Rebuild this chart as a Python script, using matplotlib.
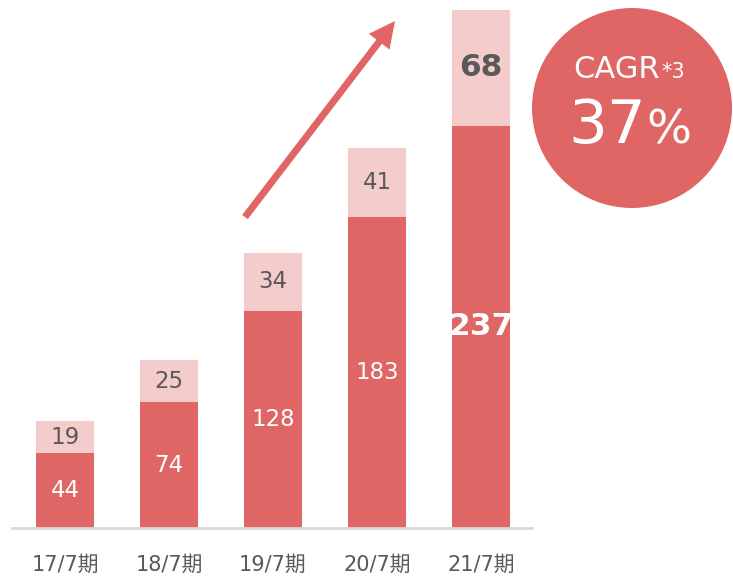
import matplotlib.pyplot as plt
from matplotlib.patches import Circle, FancyArrow

plt.rcParams['font.family'] = ['DejaVu Sans', 'Noto Sans CJK JP']

# データ
periods = ["17/7期", "18/7期", "19/7期", "20/7期", "21/7期"]
base_values = [44, 74, 128, 183, 237]
top_values = [19, 25, 34, 41, 68]
cagr_text = "37"

dark = "#E06666"
light = "#F4CCCC"
grey = "#595959"

fig = plt.figure(figsize=(7.33, 5.79), dpi=100)
W, H = 733, 579

ax = fig.add_axes([12 / W, 51 / H, 520 / W, 528 / H])
x = list(range(len(periods)))

ax.bar(x, base_values, width=0.56, color=dark)
ax.bar(x, top_values, width=0.56, bottom=base_values, color=light)

ax.set_xlim(-0.51, 4.49)
ax.set_ylim(0, 310.9)

# ラベル
for i in x:
    b = base_values[i]
    t = top_values[i]
    last = i == len(x) - 1
    ax.text(i, b / 2, str(b), ha="center", va="center",
            color="white", fontsize=22.5 if last else 16.5,
            fontweight="bold" if last else "normal")
    ax.text(i, b + t / 2, str(t), ha="center", va="center",
            color=grey, fontsize=22.5 if last else 16.5,
            fontweight="bold" if last else "normal")

ax.set_xticks(x)
ax.set_xticklabels(periods, fontsize=15, color=grey)
ax.tick_params(axis="x", length=0, pad=19)
ax.set_yticks([])
for side in ["top", "right", "left"]:
    ax.spines[side].set_visible(False)
ax.spines["bottom"].set_color("#D9D9D9")
ax.spines["bottom"].set_linewidth(2)

# 矢印とCAGRの円 (ピクセル座標のオーバーレイ)
over = fig.add_axes([0, 0, 1, 1])
over.set_xlim(0, W)
over.set_ylim(H, 0)
over.axis("off")

over.add_patch(FancyArrow(245, 217, 150, -196, width=7, head_width=26,
                          head_length=26, length_includes_head=True,
                          color=dark, linewidth=0))
over.add_patch(Circle((632, 108), 100, color=dark, linewidth=0))

over.text(660, 78, "CAGR", ha="right", va="baseline", color="white",
          fontsize=22)
over.text(661, 78, "*3", ha="left", va="baseline", color="white", fontsize=15)
over.text(646, 143, cagr_text, ha="right", va="baseline", color="white",
          fontsize=44)
over.text(646, 143, "%", ha="left", va="baseline", color="white", fontsize=34)

fig.savefig("out.png", dpi=100)
